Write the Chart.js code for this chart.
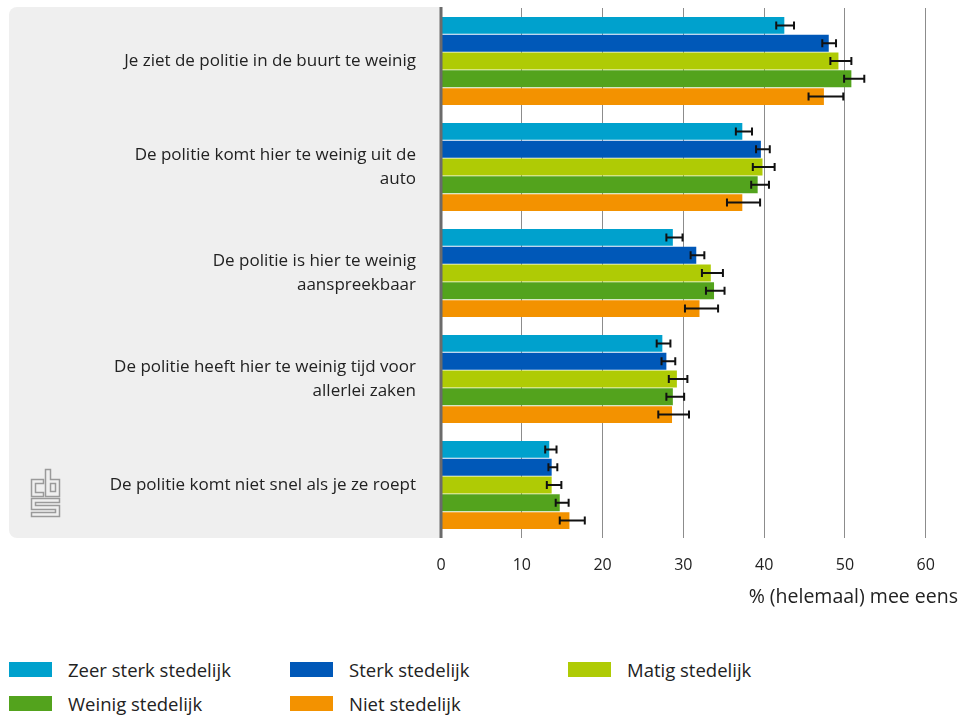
<!DOCTYPE html>
<html>
<head>
<meta charset="utf-8">
<script src="https://cdn.jsdelivr.net/npm/chart.js@4.4.1/dist/chart.umd.min.js"></script>
<style>
    body { margin: 0; background: #fff; font-family: "Open Sans", sans-serif; }
    #wrap { position: relative; width: 967px; height: 717px; }
    #legend { position: absolute; left: 0; top: 650px; width: 967px; }
    .item { position: absolute; display: flex; align-items: center; font-size: 18.5px; line-height: 24px; color: #222; white-space: nowrap; }
    .box { width: 43px; height: 15px; margin-right: 16px; }
</style>
</head>
<body>
<div id="wrap">
    <canvas id="chart" width="967" height="622"></canvas>
    <div id="legend"></div>
</div>
<script>
// Categories (y axis)
const categories = [
    ['Je ziet de politie in de buurt te weinig'],
    ['De politie komt hier te weinig uit de', 'auto'],
    ['De politie is hier te weinig', 'aanspreekbaar'],
    ['De politie heeft hier te weinig tijd voor', 'allerlei zaken'],
    ['De politie komt niet snel als je ze roept']
];

const seriesNames = ['Zeer sterk stedelijk', 'Sterk stedelijk', 'Matig stedelijk', 'Weinig stedelijk', 'Niet stedelijk'];

// Values (%) and confidence interval bounds
const zeerSterk = [42.5, 37.3, 28.7, 27.4, 13.4];
const zeerSterkLow = [41.5, 36.5, 27.9, 26.7, 12.9];
const zeerSterkHigh = [43.7, 38.5, 29.9, 28.4, 14.3];

const sterk = [48.0, 39.6, 31.6, 27.9, 13.7];
const sterkLow = [47.2, 39.0, 30.9, 27.3, 13.3];
const sterkHigh = [48.9, 40.7, 32.6, 29.0, 14.4];

const matig = [49.2, 39.8, 33.4, 29.2, 13.7];
const matigLow = [48.2, 38.6, 32.3, 28.2, 13.1];
const matigHigh = [50.8, 41.3, 34.9, 30.5, 14.9];

const weinig = [50.8, 39.2, 33.8, 28.7, 14.7];
const weinigLow = [49.9, 38.4, 32.8, 27.9, 14.2];
const weinigHigh = [52.4, 40.6, 35.1, 30.1, 15.8];

const niet = [47.4, 37.3, 32.0, 28.6, 15.9];
const nietLow = [45.5, 35.4, 30.2, 26.9, 14.7];
const nietHigh = [49.8, 39.5, 34.3, 30.7, 17.8];

// X axis tick labels
const xTicks = [0, 10, 20, 30, 40, 50, 60];
const xTitle = '% (helemaal) mee eens';

// Colors
const colors = ['#00a1cd', '#0058b8', '#afcb05', '#53a31d', '#f39200'];

const values = [zeerSterk, sterk, matig, weinig, niet];
const lows = [zeerSterkLow, sterkLow, matigLow, weinigLow, nietLow];
const highs = [zeerSterkHigh, sterkHigh, matigHigh, weinigHigh, nietHigh];

const fontFamily = '"Open Sans", sans-serif';

// Grey panel behind the category labels + cbs logo
const panelPlugin = {
    id: 'panel',
    beforeDraw(chart) {
        const { ctx, chartArea } = chart;
        ctx.save();
        ctx.fillStyle = '#efefef';
        ctx.beginPath();
        ctx.roundRect(9, chartArea.top - 1, chartArea.left - 9, chartArea.bottom - chartArea.top + 1, [8, 0, 0, 8]);
        ctx.fill();

        // logo
        const ox = 31.5, oy = 469.5;
        ctx.strokeStyle = '#9a9a9a';
        ctx.lineWidth = 1.5;
        const poly = (pts) => {
            ctx.beginPath();
            ctx.moveTo(ox + pts[0][0], oy + pts[0][1]);
            for (let i = 1; i < pts.length; i++) ctx.lineTo(ox + pts[i][0], oy + pts[i][1]);
            ctx.closePath();
            ctx.stroke();
        };
        poly([[12, 10], [0, 10], [0, 27], [12, 27], [12, 23], [4, 23], [4, 14], [12, 14]]);
        poly([[14, 0], [19, 0], [19, 10], [28, 10], [28, 27], [14, 27]]);
        poly([[19, 14], [24, 14], [24, 22], [19, 22]]);
        poly([[0, 29], [28, 29], [28, 33], [4, 33], [4, 36], [28, 36], [28, 47], [0, 47], [0, 43], [24, 43], [24, 40], [0, 40]]);
        ctx.restore();
    }
};

// Zero line and error bars on top of the bars
const overlayPlugin = {
    id: 'overlay',
    afterDatasetsDraw(chart) {
        const { ctx, chartArea } = chart;
        const xScale = chart.scales.x;
        ctx.save();
        ctx.strokeStyle = '#111';
        ctx.lineWidth = 2;
        chart.data.datasets.forEach((ds, d) => {
            const meta = chart.getDatasetMeta(d);
            meta.data.forEach((bar, i) => {
                const x1 = xScale.getPixelForValue(lows[d][i]);
                const x2 = xScale.getPixelForValue(highs[d][i]);
                const y = bar.y;
                ctx.beginPath();
                ctx.moveTo(x1, y); ctx.lineTo(x2, y);
                ctx.moveTo(x1, y - 4); ctx.lineTo(x1, y + 4);
                ctx.moveTo(x2, y - 4); ctx.lineTo(x2, y + 4);
                ctx.stroke();
            });
        });
        ctx.strokeStyle = '#6b6b6b';
        ctx.lineWidth = 3;
        ctx.beginPath();
        ctx.moveTo(chartArea.left, chartArea.top - 1);
        ctx.lineTo(chartArea.left, chartArea.bottom);
        ctx.stroke();
        ctx.restore();
    }
};

const ctx = document.getElementById('chart').getContext('2d');
const chart = new Chart(ctx, {
    type: 'bar',
    data: {
        labels: categories,
        datasets: values.map((v, d) => ({
            label: seriesNames[d],
            data: v,
            backgroundColor: colors[d],
            borderWidth: 0,
            barPercentage: 0.95,
            categoryPercentage: 0.84
        }))
    },
    options: {
        indexAxis: 'y',
        responsive: false,
        animation: false,
        layout: { padding: { top: 8, right: 9, left: 0, bottom: 13 } },
        plugins: {
            legend: { display: false },
            tooltip: { enabled: false }
        },
        scales: {
            x: {
                min: 0,
                max: 64,
                afterBuildTicks(scale) {
                    scale.ticks = xTicks.map(v => ({ value: v }));
                },
                afterFit(scale) { scale.height = 71; },
                grid: { color: '#8c8c8c', lineWidth: 1, tickLength: 0 },
                border: { display: false },
                ticks: { color: '#222', font: { family: fontFamily, size: 16 }, padding: 18 },
                title: {
                    display: true,
                    text: xTitle,
                    align: 'end',
                    color: '#222',
                    font: { family: fontFamily, size: 19.5 },
                    padding: { top: 0, bottom: 0 }
                }
            },
            y: {
                afterFit(scale) {
                    scale.width = 441;
                    scale.paddingTop = 0;
                    scale.paddingBottom = 0;
                },
                grid: { display: false, drawTicks: false },
                border: { display: false },
                ticks: { color: '#222', font: { family: fontFamily, size: 17, lineHeight: 1.4 }, padding: 25 }
            }
        }
    },
    plugins: [panelPlugin, overlayPlugin]
});

// HTML legend in three columns
const legendEl = document.getElementById('legend');
const colX = [9, 290, 568];
seriesNames.forEach((name, i) => {
    const item = document.createElement('div');
    item.className = 'item';
    item.style.left = colX[i % 3] + 'px';
    item.style.top = (Math.floor(i / 3) * 34 + 7.5) + 'px';
    item.innerHTML = '<span class="box" style="background:' + colors[i] + '"></span><span>' + name + '</span>';
    legendEl.appendChild(item);
});
</script>
</body>
</html>
